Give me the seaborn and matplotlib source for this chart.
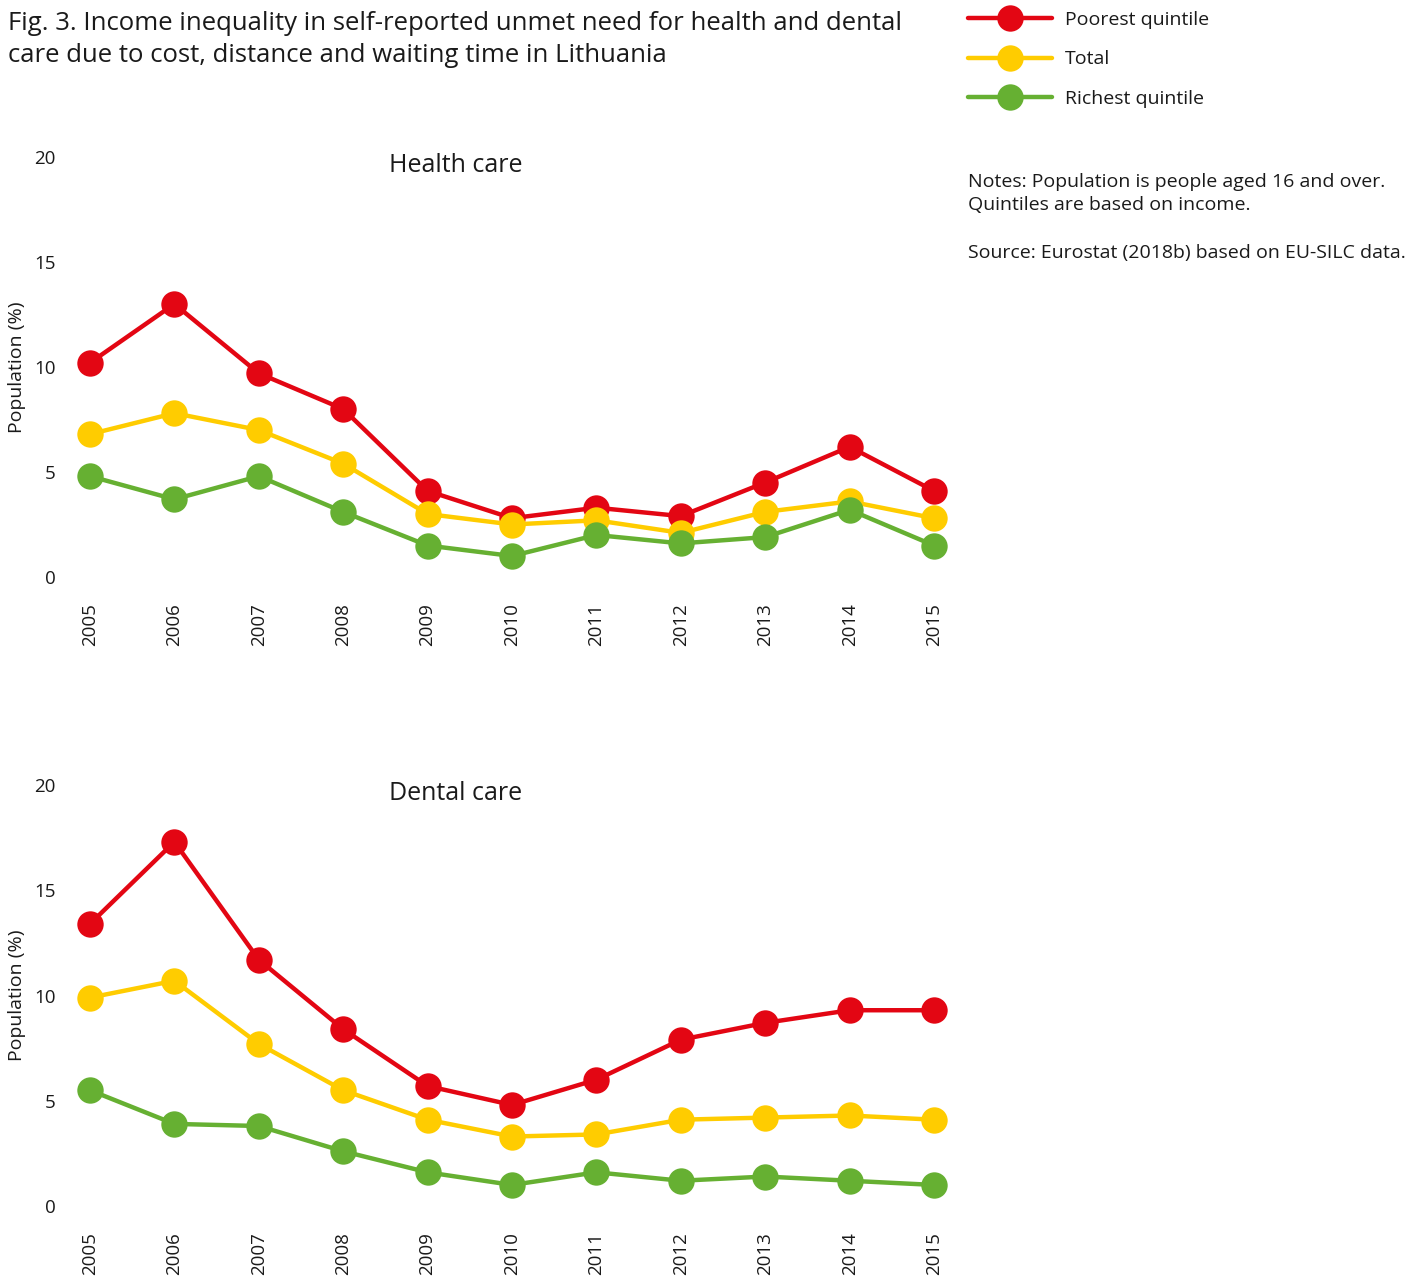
import matplotlib
matplotlib.use("Agg")
import matplotlib.pyplot as plt
import seaborn as sns
import pandas as pd

years = [2005, 2006, 2007, 2008, 2009, 2010, 2011, 2012, 2013, 2014, 2015]

health_poorest = [10.2, 13.0, 9.7, 8.0, 4.1, 2.8, 3.3, 2.9, 4.5, 6.2, 4.1]
health_total = [6.8, 7.8, 7.0, 5.4, 3.0, 2.5, 2.7, 2.1, 3.1, 3.6, 2.8]
health_richest = [4.8, 3.7, 4.8, 3.1, 1.5, 1.0, 2.0, 1.6, 1.9, 3.2, 1.5]

dental_poorest = [13.4, 17.3, 11.7, 8.4, 5.7, 4.8, 6.0, 7.9, 8.7, 9.3, 9.3]
dental_total = [9.9, 10.7, 7.7, 5.5, 4.1, 3.3, 3.4, 4.1, 4.2, 4.3, 4.1]
dental_richest = [5.5, 3.9, 3.8, 2.6, 1.6, 1.0, 1.6, 1.2, 1.4, 1.2, 1.0]

series_names = ["Poorest quintile", "Total", "Richest quintile"]
colors = ["#E30613", "#FFCC00", "#66B032"]
y_ticks = [0, 5, 10, 15, 20]

sns.set_theme(style="white")
plt.rcParams["font.family"] = ["Open Sans", "DejaVu Sans"]

TXT = "#1a1a1a"
W, H = 1421, 1281
fig = plt.figure(figsize=(W / 100, H / 100), dpi=100)


def px_axes(left, top, right, bottom):
    return fig.add_axes([left / W, 1 - bottom / H, (right - left) / W, (bottom - top) / H])


def make_df(p, t, r):
    rows = []
    for name, vals in zip(series_names, [p, t, r]):
        for y, v in zip(years, vals):
            rows.append({"year": y, "value": v, "series": name})
    return pd.DataFrame(rows)


panels = [
    ("Health care", make_df(health_poorest, health_total, health_richest), (157, 577)),
    ("Dental care", make_df(dental_poorest, dental_total, dental_richest), (785, 1206)),
]

handles = None
for title, df, (top, bottom) in panels:
    ax = px_axes(60, top, 964, bottom)
    sns.lineplot(data=df, x="year", y="value", hue="series", hue_order=series_names,
                 palette=colors, marker="o", markersize=19, linewidth=3.2,
                 markeredgewidth=0, ax=ax, legend=True)
    for ln in ax.lines:
        ln.set_clip_on(False)
    handles, labels = ax.get_legend_handles_labels()
    ax.get_legend().remove()
    ax.set_xlim(2004.645, 2015.355)
    ax.set_ylim(0, 20)
    ax.set_xticks(years)
    ax.set_xticklabels([str(y) for y in years], rotation=90, fontsize=13.5)
    ax.set_yticks(y_ticks)
    ax.set_yticklabels([str(v) for v in y_ticks], fontsize=13.5)
    ax.tick_params(axis="x", length=0, pad=19, colors=TXT)
    ax.tick_params(axis="y", length=0, pad=3, colors=TXT)
    for s in ax.spines.values():
        s.set_visible(False)
    ax.grid(False)
    ax.set_xlabel("")
    ax.set_ylabel("Population (%)", fontsize=14, color=TXT)
    ax.yaxis.set_label_coords(-0.0376, 0.5)
    ax.patch.set_alpha(0)
    fig.text(456 / W, 1 - (top + 9) / H, title, ha="center", va="center",
             fontsize=18, color=TXT)

fig.text(8 / W, 1 - 24 / H, "Fig. 3. Income inequality in self-reported unmet need for health and dental",
         ha="left", va="center", fontsize=18.5, color=TXT)
fig.text(8 / W, 1 - 55 / H, "care due to cost, distance and waiting time in Lithuania",
         ha="left", va="center", fontsize=18.5, color=TXT)

leg = fig.legend(handles, series_names, loc="upper left", bbox_to_anchor=(968 / W, 1 - 11 / H),
                 frameon=False, fontsize=14, handlelength=4.3, handletextpad=0.67,
                 labelspacing=1.1, borderpad=0, borderaxespad=0)
for t in leg.get_texts():
    t.set_color(TXT)

fig.text(968 / W, 1 - 182 / H, "Notes: Population is people aged 16 and over.",
         ha="left", va="center", fontsize=14, color=TXT)
fig.text(968 / W, 1 - 205 / H, "Quintiles are based on income.",
         ha="left", va="center", fontsize=14, color=TXT)
fig.text(968 / W, 1 - 253 / H, "Source: Eurostat (2018b) based on EU-SILC data.",
         ha="left", va="center", fontsize=14, color=TXT)

fig.savefig("out.png", dpi=100, facecolor="white")
